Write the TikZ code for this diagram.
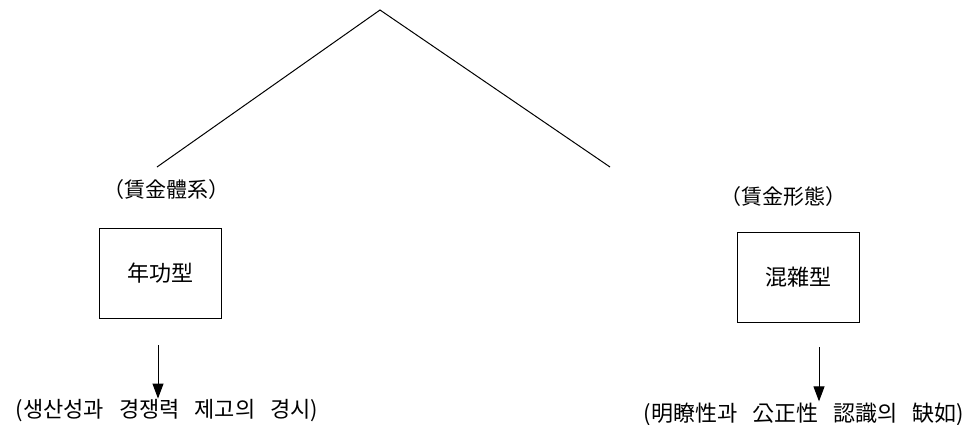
\documentclass[tikz,border=0pt]{standalone}
\usepackage{fontspec}
\setmainfont{Noto Sans CJK KR}
\usetikzlibrary{arrows.meta,positioning}

\begin{document}
\begin{tikzpicture}[
    x=1pt, y=-1pt,
    branchline/.style={line width=1pt, black},
    headnode/.style={font=\fontsize{21}{24}\selectfont, inner sep=1pt},
    typebox/.style={draw, line width=1pt, minimum width=122pt, minimum height=90pt, font=\fontsize{22}{26}\selectfont},
    resultnode/.style={font=\fontsize{22}{26}\selectfont, inner sep=1pt, execute at begin node={\spaceskip=15pt}},
    flow/.style={line width=1pt, -{Triangle[length=15pt,width=11pt]}}
]
\useasboundingbox (0,0) rectangle (968,424);
% Tree top
\coordinate (apex) at (380,10);
\coordinate (ageEnd) at (157,167);
\coordinate (mixEnd) at (610,167);
\draw[branchline] (ageEnd) -- (apex) -- (mixEnd);
% Headings
\node[headnode] (ageHead) at (166,190) {（賃金體系）};
\node[headnode] (mixHead) at (783,197) {（賃金形態）};
% Boxes
\node[typebox] (ageBox) at (160,273) {年功型};
\node[typebox] (mixBox) at (798,277) {混雜型};
% Results
\node[resultnode] (ageResult) at (167,411) {(생산성과 경쟁력 제고의 경시)};
\node[resultnode] (mixResult) at (804,414) {(明瞭性과 公正性 認識의 缺如)};
\coordinate (ageFrom) at (158,345);
\coordinate (mixFrom) at (819,347);
\draw[flow] (ageFrom) -- (ageFrom |- ageResult.north);
\draw[flow] (mixFrom) -- (mixFrom |- mixResult.north);
\end{tikzpicture}
\end{document}
